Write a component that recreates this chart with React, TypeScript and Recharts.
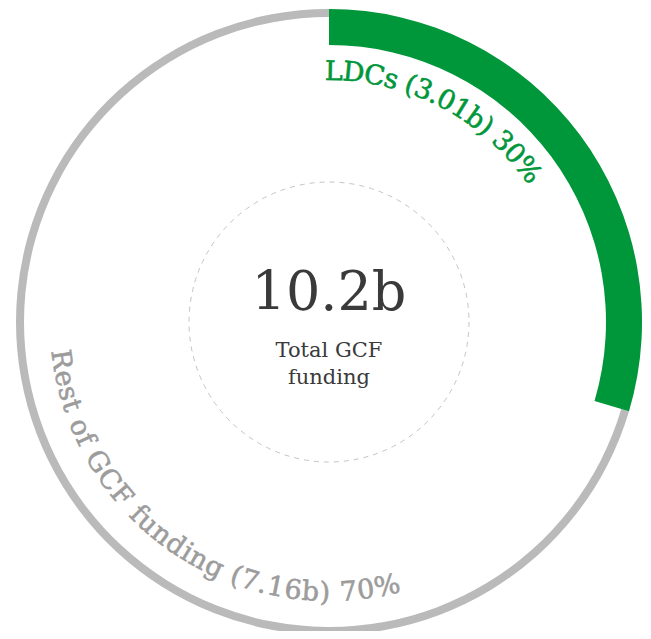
import React from 'react';
import { PieChart, Pie, Cell, Customized } from 'recharts';

// funding split, in billions of USD
const SLICE_NAMES = ['LDCs', 'Rest of GCF funding'];
const SLICE_VALUES = [3.01, 7.16];
const SLICE_SHARES = [30, 70];
const TOTAL_LABEL = '10.2b';
const CENTER_CAPTION = ['Total GCF', 'funding'];

const GREEN = '#00963a';
const GREY_RING = '#bababa';
const GREY_TEXT = '#9c9c9c';
const FONT = '"DejaVu Serif", serif';

const CX = 329;
const CY = 322;
const OUTER = 313;

const data = SLICE_NAMES.map((name, i) => ({
  name,
  value: SLICE_VALUES[i],
  share: SLICE_SHARES[i],
}));

const rad = (deg: number) => (deg * Math.PI) / 180;

// svg arc path between two angles (degrees, counter-clockwise from 3 o'clock)
function arcPath(cx: number, cy: number, r: number, from: number, to: number) {
  const x0 = cx + r * Math.cos(rad(from));
  const y0 = cy - r * Math.sin(rad(from));
  const x1 = cx + r * Math.cos(rad(to));
  const y1 = cy - r * Math.sin(rad(to));
  const sweep = to < from ? 1 : 0;
  const large = Math.abs(to - from) > 180 ? 1 : 0;
  return `M ${x0} ${y0} A ${r} ${r} 0 ${large} ${sweep} ${x1} ${y1}`;
}

const labelText = (i: number) =>
  `${SLICE_NAMES[i]} (${SLICE_VALUES[i]}b) ${SLICE_SHARES[i]}%`;

// green label hugs the inside of the thick arc, grey one runs round the bottom
const renderLdcLabel = (props: any) => {
  if (props.index !== 0) return null;
  const { cx, cy, startAngle, endAngle } = props;
  const id = 'arc-ldc';
  return (
    <g>
      <defs>
        <path id={id} d={arcPath(cx, cy, 242, startAngle + 1, endAngle - 30)} />
      </defs>
      <text
        fill={GREEN}
        stroke={GREEN}
        strokeWidth={0.6}
        fontFamily={FONT}
        fontSize={27}
        letterSpacing={-0.7}
      >
        <textPath href={`#${id}`}>{labelText(0)}</textPath>
      </text>
    </g>
  );
};

const renderRestLabel = (props: any) => {
  if (props.index !== 1) return null;
  const { cx, cy, startAngle } = props;
  const id = 'arc-rest';
  return (
    <g>
      <defs>
        <path id={id} d={arcPath(cx, cy, 279, 186, startAngle + 360)} />
      </defs>
      <text
        fill={GREY_TEXT}
        stroke={GREY_TEXT}
        strokeWidth={0.6}
        fontFamily={FONT}
        fontSize={27}
        letterSpacing={0.9}
      >
        <textPath href={`#${id}`}>{labelText(1)}</textPath>
      </text>
    </g>
  );
};

const CenterBlock = () => (
  <g>
    <circle
      cx={CX}
      cy={CY}
      r={140}
      fill="none"
      stroke="#c4c4c4"
      strokeWidth={1}
      strokeDasharray="5 5"
    />
    <text
      x={CX}
      y={310}
      textAnchor="middle"
      fill="#3a3a3a"
      fontFamily={FONT}
      fontSize={54}
    >
      {TOTAL_LABEL}
    </text>
    <text textAnchor="middle" fill="#3a3a3a" fontFamily={FONT} fontSize={21}>
      {CENTER_CAPTION.map((line, i) => (
        <tspan key={line} x={CX} y={357 + i * 27}>
          {line}
        </tspan>
      ))}
    </text>
  </g>
);

export default function App() {
  return (
    <div style={{ margin: -8, width: 651, height: 639, background: '#fff' }}>
      <PieChart width={651} height={639} margin={{ top: 0, right: 0, bottom: 0, left: 0 }}>
        <Customized component={CenterBlock} />
        <Pie
          data={data}
          dataKey="value"
          cx={CX}
          cy={CY}
          startAngle={90}
          endAngle={-270}
          innerRadius={OUTER - 8}
          outerRadius={OUTER}
          stroke="none"
          label={renderRestLabel}
          labelLine={false}
          isAnimationActive={false}
        >
          {data.map((d, i) => (
            <Cell key={d.name} fill={i === 1 ? GREY_RING : 'none'} />
          ))}
        </Pie>
        <Pie
          data={data}
          dataKey="value"
          cx={CX}
          cy={CY}
          startAngle={90}
          endAngle={-270}
          innerRadius={OUTER - 36}
          outerRadius={OUTER}
          stroke="none"
          label={renderLdcLabel}
          labelLine={false}
          isAnimationActive={false}
        >
          {data.map((d, i) => (
            <Cell key={d.name} fill={i === 0 ? GREEN : 'none'} />
          ))}
        </Pie>
      </PieChart>
    </div>
  );
}
